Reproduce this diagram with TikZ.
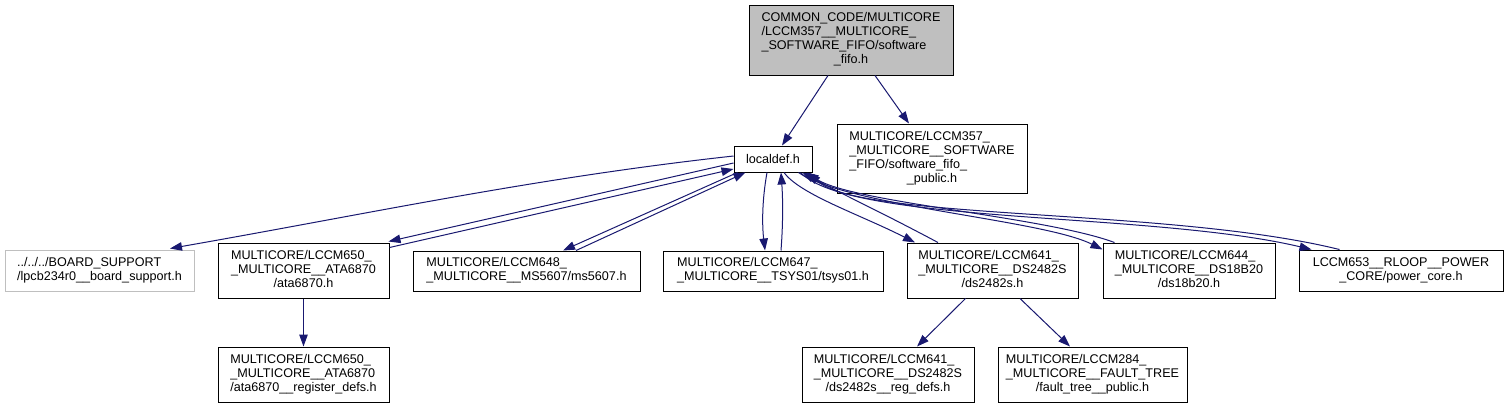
\documentclass[tikz,border=0pt]{standalone}
\usepackage{fontspec}
\setmainfont{Liberation Sans}
\usetikzlibrary{arrows.meta,calc}
\definecolor{edgeblue}{HTML}{191970}
\definecolor{boxgray}{HTML}{BFBFBF}
\newcommand{\lns}[2]{\begin{tabular}{@{}l@{}}#1\\\multicolumn{1}{@{}c@{}}{#2}\end{tabular}}
\tikzset{
  fbox/.style={draw=black, line width=1pt, inner sep=0pt, rectangle,
    font=\fontsize{12.6}{14}\selectfont},
  graybox/.style={fbox, draw=boxgray},
  dep/.style={draw=edgeblue, line width=1pt, -{Triangle[length=12pt,width=8.5pt]}, color=edgeblue},
}
\begin{document}
\begin{tikzpicture}[x=1pt,y=-1pt]
\useasboundingbox[fill=white] (0,0) rectangle (1508,408);
% nodes
\node[fbox, fill=boxgray, minimum width=204pt, minimum height=70pt] (top) at (851,40)
  {\lns{COMMON\_CODE/MULTICORE\\/LCCM357\_\_MULTICORE\_\\\_SOFTWARE\_FIFO/software}{\_fifo.h}};
\node[fbox, minimum width=78pt, minimum height=26pt] (localdef) at (773,159) {localdef.h};
\node[fbox, minimum width=190pt, minimum height=69pt] (public) at (932,158.5)
  {\lns{MULTICORE/LCCM357\_\\\_MULTICORE\_\_SOFTWARE\\\_FIFO/software\_fifo\_}{\_public.h}};
\node[graybox, minimum width=189pt, minimum height=41pt] (board) at (99.5,270.5)
  {\lns{../../../BOARD\_SUPPORT}{/lpcb234r0\_\_board\_support.h}};
\node[fbox, minimum width=171pt, minimum height=55pt] (ata) at (303.5,270.5)
  {\lns{MULTICORE/LCCM650\_\\\_MULTICORE\_\_ATA6870}{/ata6870.h}};
\node[fbox, minimum width=227pt, minimum height=40pt] (ms) at (526.5,271)
  {\lns{MULTICORE/LCCM648\_}{\_MULTICORE\_\_MS5607/ms5607.h}};
\node[fbox, minimum width=220pt, minimum height=40pt] (tsys) at (773,271)
  {\lns{MULTICORE/LCCM647\_}{\_MULTICORE\_\_TSYS01/tsys01.h}};
\node[fbox, minimum width=171pt, minimum height=55pt] (dsa) at (992.5,270.5)
  {\lns{MULTICORE/LCCM641\_\\\_MULTICORE\_\_DS2482S}{/ds2482s.h}};
\node[fbox, minimum width=172pt, minimum height=55pt] (dsb) at (1189,270.5)
  {\lns{MULTICORE/LCCM644\_\\\_MULTICORE\_\_DS18B20}{/ds18b20.h}};
\node[fbox, minimum width=204pt, minimum height=41pt] (power) at (1401,270.5)
  {\lns{LCCM653\_\_RLOOP\_\_POWER}{\_CORE/power\_core.h}};
\node[fbox, minimum width=171pt, minimum height=55pt] (atareg) at (303.5,374.5)
  {\lns{MULTICORE/LCCM650\_\\\_MULTICORE\_\_ATA6870}{/ata6870\_\_register\_defs.h}};
\node[fbox, minimum width=172pt, minimum height=55pt] (dsreg) at (888,374.5)
  {\lns{MULTICORE/LCCM641\_\\\_MULTICORE\_\_DS2482S}{/ds2482s\_\_reg\_defs.h}};
\node[fbox, minimum width=189pt, minimum height=55pt] (fault) at (1092.5,374.5)
  {\lns{MULTICORE/LCCM284\_\\\_MULTICORE\_\_FAULT\_TREE}{/fault\_tree\_\_public.h}};
% edges
\draw[dep] ($(top.south)+(-23,0)$) -- ($(localdef.north)+(9,0)$);
\draw[dep] ($(top.south)+(24,0)$) -- ($(public.north)+(-23,0)$);
\draw[dep] ($(localdef.west)+(0,-3)$) .. controls +(-200,22) and +(200,-35) .. ($(board.north)+(70.5,-1)$);
\draw[dep] ($(localdef.west)+(0,4)$) -- ($(ata.north east)+(-1,-1)$);
\draw[dep] ($(ata.north east)+(0,5)$) -- ($(localdef.west)+(0,10)$);
\draw[dep] ($(localdef.south west)+(4,0)$) -- ($(ms.north)+(36.5,0)$);
\draw[dep] ($(ms.north)+(49.5,0)$) -- ($(localdef.south west)+(12,0)$);
\draw[dep] ($(localdef.south)+(-6,0)$) .. controls +(-5,28) and +(-3,-26) .. ($(tsys.north)+(-8,0)$);
\draw[dep] ($(tsys.north)+(8,0)$) .. controls +(2,-26) and +(2,28) .. ($(localdef.south)+(8,0)$);
\draw[dep] ($(localdef.south)+(11,0)$) .. controls +(16,22) and +(-55,-28) .. ($(dsa.north)+(-77.5,0)$);
\draw[dep] ($(dsa.north)+(-54.5,0)$) .. controls +(-60,-32) and +(40,22) .. ($(localdef.south east)+(-10,0)$);
\draw[dep] ($(localdef.south east)+(-14,0)$) .. controls +(50,34) and +(-60,-30) .. ($(dsb.north west)+(0,7)$);
\draw[dep] ($(dsb.north west)+(12,0)$) .. controls +(-70,-26) and +(45,30) .. ($(localdef.south east)+(-6,0)$);
\draw[dep] ($(localdef.south east)+(-12,0)$) .. controls +(50,52) and +(-160,-38) .. ($(power.north west)+(13,0)$);
\draw[dep] ($(power.north west)+(41,0)$) .. controls +(-170,-42) and +(50,48) .. ($(localdef.south east)+(-4,0)$);
\draw[dep] (ata.south) -- (atareg.north);
\draw[dep] ($(dsa.south)+(-27,0)$) -- ($(dsreg.north)+(29,0)$);
\draw[dep] ($(dsa.south)+(27.5,0)$) -- ($(fault.north)+(-22.5,0)$);
\end{tikzpicture}
\end{document}
